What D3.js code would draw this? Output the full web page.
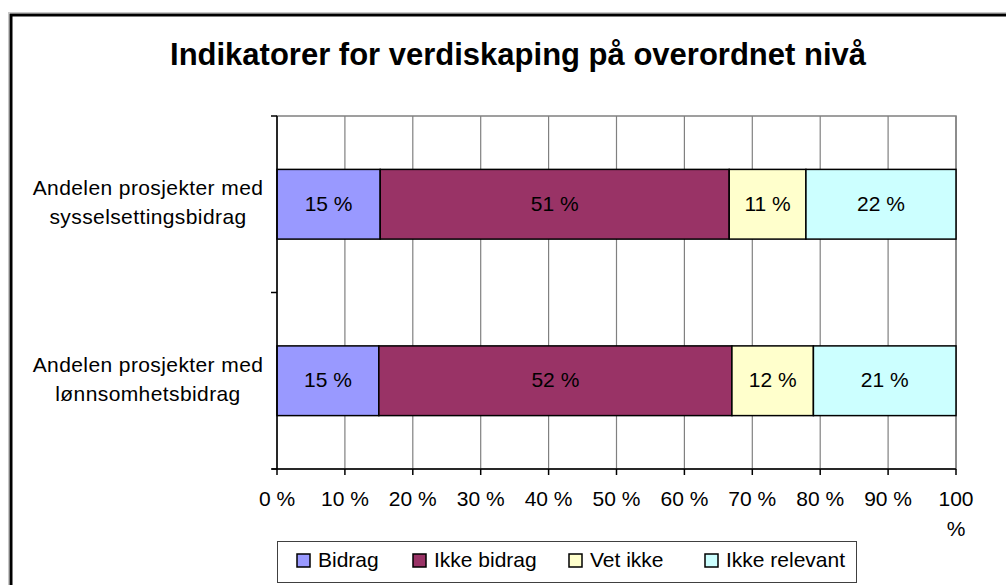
<!DOCTYPE html>
<html>
<head>
<meta charset="utf-8">
<script src="https://cdn.jsdelivr.net/npm/d3@7"></script>
<style>
  body { margin: 0; background: #fff; }
  svg text { font-family: "Liberation Sans", Arial, sans-serif; fill: #000; }
</style>
</head>
<body>
<div id="chart"></div>
<script>
// data
const categories = [
  ["Andelen prosjekter med", "sysselsettingsbidrag"],
  ["Andelen prosjekter med", "lønnsomhetsbidrag"]
];
const seriesNames = ["Bidrag", "Ikke bidrag", "Vet ikke", "Ikke relevant"];
const seriesColors = ["#9999ff", "#993366", "#ffffcc", "#ccffff"];
const bidrag = [15.2, 15.0];
const ikkeBidrag = [51.4, 52.0];
const vetIkke = [11.3, 12.0];
const ikkeRelevant = [22.1, 21.0];
const xTicks = [0, 10, 20, 30, 40, 50, 60, 70, 80, 90, 100];

const W = 1006, H = 585;
const svg = d3.select('#chart').append('svg')
    .attr('width', W)
    .attr('height', H);

// outer frame
svg.append('rect')
    .attr('x', 8.5).attr('y', 12.5)
    .attr('width', 1100).attr('height', 700)
    .attr('fill', 'none').attr('stroke', '#c8c8c8').attr('stroke-width', 1);
svg.append('rect')
    .attr('x', 11).attr('y', 15)
    .attr('width', 1100).attr('height', 700)
    .attr('fill', 'none').attr('stroke', '#000').attr('stroke-width', 3);

svg.append('text')
    .attr('x', 518).attr('y', 57)
    .attr('text-anchor', 'middle')
    .attr('dominant-baseline', 'middle')
    .style('font-size', '31px')
    .style('font-weight', 'bold')
    .text('Indikatorer for verdiskaping på overordnet nivå');

var x = d3.scaleLinear()
    .domain([0, 100])
    .range([277, 956]);

var y = d3.scaleBand()
    .domain(d3.range(categories.length))
    .range([116, 469])
    .padding(0);

const barH = y.bandwidth() * 0.395;

// plot frame + gridlines
svg.append('rect')
    .attr('x', x(0)).attr('y', y.range()[0])
    .attr('width', x(100) - x(0)).attr('height', y.range()[1] - y.range()[0])
    .attr('fill', 'none').attr('stroke', '#808080').attr('stroke-width', 1.5);

svg.selectAll('line.grid')
    .data(xTicks.slice(1))
    .enter().append('line')
    .attr('class', 'grid')
    .attr('x1', d => x(d)).attr('x2', d => x(d))
    .attr('y1', y.range()[0]).attr('y2', y.range()[1])
    .attr('stroke', '#808080').attr('stroke-width', 1.2);

// stacked bars
const series = [bidrag, ikkeBidrag, vetIkke, ikkeRelevant];
const stacked = [];
categories.forEach((c, i) => {
  let acc = 0;
  series.forEach((s, j) => {
    stacked.push({cat: i, s: j, x0: acc, x1: acc + s[i], v: s[i]});
    acc += s[i];
  });
});

const bars = svg.append('g');
bars.selectAll('rect')
    .data(stacked)
    .enter().append('rect')
    .attr('x', d => x(d.x0))
    .attr('y', d => y(d.cat) + (y.bandwidth() - barH) / 2)
    .attr('width', d => x(d.x1) - x(d.x0))
    .attr('height', barH)
    .attr('fill', d => seriesColors[d.s])
    .attr('stroke', '#000')
    .attr('stroke-width', 1.5);

bars.selectAll('text')
    .data(stacked)
    .enter().append('text')
    .attr('x', d => (x(d.x0) + x(d.x1)) / 2)
    .attr('y', d => y(d.cat) + y.bandwidth() / 2 + 1)
    .attr('text-anchor', 'middle')
    .attr('dominant-baseline', 'middle')
    .style('font-size', '21px')
    .text(d => `${Math.round(d.v)} %`);

// axes (black)
const axis = svg.append('g').attr('stroke', '#000').attr('stroke-width', 1.5);
axis.append('line')
    .attr('x1', x(0)).attr('x2', x(0))
    .attr('y1', y.range()[0]).attr('y2', y.range()[1]);
axis.append('line')
    .attr('x1', x(0) - 5).attr('x2', x(100))
    .attr('y1', y.range()[1]).attr('y2', y.range()[1]);
const catEdges = [y.range()[0]].concat(d3.range(categories.length).map(i => y(i) + y.bandwidth()));
axis.selectAll('line.ytick')
    .data(catEdges)
    .enter().append('line')
    .attr('x1', x(0) - 6).attr('x2', x(0))
    .attr('y1', d => d).attr('y2', d => d);
axis.selectAll('line.xtick')
    .data(xTicks)
    .enter().append('line')
    .attr('x1', d => x(d)).attr('x2', d => x(d))
    .attr('y1', y.range()[1]).attr('y2', y.range()[1] + 6);

// x tick labels, "100 %" wraps onto two lines
const xl = svg.selectAll('text.xlab')
    .data(xTicks)
    .enter().append('text')
    .attr('class', 'xlab')
    .attr('text-anchor', 'middle')
    .attr('dominant-baseline', 'middle')
    .style('font-size', '21px');
xl.each(function(d) {
  const t = d3.select(this);
  if (d === 100) {
    t.append('tspan').attr('x', x(d)).attr('y', 500).text('100');
    t.append('tspan').attr('x', x(d)).attr('y', 530).text('%');
  } else {
    t.attr('x', x(d)).attr('y', 500).text(`${d} %`);
  }
});

// category labels
svg.selectAll('text.cat')
    .data(categories)
    .enter().append('text')
    .attr('class', 'cat')
    .attr('text-anchor', 'middle')
    .style('font-size', '21px')
    .style('letter-spacing', '0.4px')
    .each(function(lines, i) {
      const cy = y(i) + y.bandwidth() / 2;
      lines.forEach((l, k) => {
        d3.select(this).append('tspan')
            .attr('x', 148)
            .attr('y', cy + (k - 0.5) * 29)
            .attr('dominant-baseline', 'middle')
            .text(l);
      });
    });

// legend
const legend = svg.append('g');
legend.append('rect')
    .attr('x', 277.5).attr('y', 541.5)
    .attr('width', 579).attr('height', 41)
    .attr('fill', '#fff').attr('stroke', '#404040').attr('stroke-width', 1);
const legX = [297, 413, 569, 705];
seriesNames.forEach((n, i) => {
  legend.append('rect')
      .attr('x', legX[i]).attr('y', 554)
      .attr('width', 13).attr('height', 13)
      .attr('fill', seriesColors[i])
      .attr('stroke', '#000').attr('stroke-width', 1.5);
  legend.append('text')
      .attr('x', legX[i] + 21).attr('y', 561)
      .attr('dominant-baseline', 'middle')
      .style('font-size', '21px')
      .text(n);
});
</script>
</body>
</html>
